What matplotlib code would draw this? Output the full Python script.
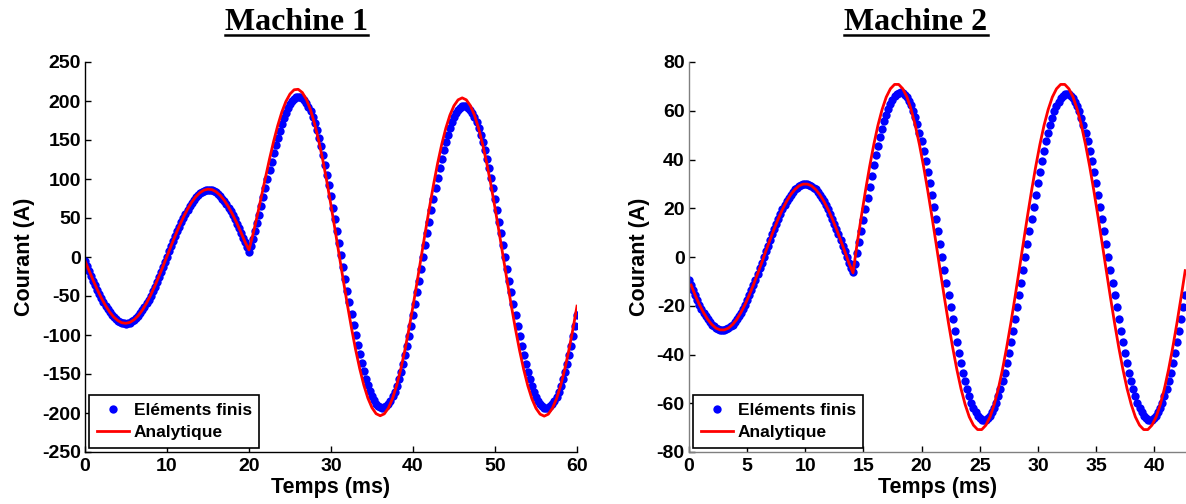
import numpy as np
import matplotlib.pyplot as plt
from matplotlib.lines import Line2D

plt.rcParams['font.family'] = ['Liberation Sans', 'DejaVu Sans']
plt.rcParams['font.weight'] = 'bold'
plt.rcParams['axes.unicode_minus'] = False

# ---- Machine 1 : éléments finis (pas 0.25 ms) ----
pas_ef1 = 0.25
courant_ef1 = [
    -5.0, -11.4, -17.7, -24.0, -30.2, -36.1, -41.9, -47.4, -52.7, -57.7,
    -62.3, -66.6, -70.6, -74.0, -77.1, -79.6, -81.7, -83.4, -84.5, -85.1,
    -85.3, -84.8, -84.0, -82.5, -80.6, -78.3, -75.4, -72.1, -68.4, -64.1,
    -59.6, -54.6, -49.4, -43.9, -38.0, -32.0, -25.8, -19.3, -12.8, -6.1,
    0.5, 7.1, 13.8, 20.3, 26.8, 33.0, 39.0, 44.9, 50.4, 55.6,
    60.6, 65.1, 69.4, 73.1, 76.4, 79.3, 81.6, 83.5, 85.0, 85.8,
    86.3, 86.1, 85.5, 84.4, 82.7, 80.6, 78.1, 75.0, 71.6, 67.6,
    63.3, 58.7, 53.7, 48.4, 42.9, 37.1, 31.2, 25.0, 18.7, 12.4,
    6.0,
    14.3, 23.3, 33.1, 43.5, 54.3, 65.4, 76.7, 88.2, 99.6, 110.9,
    122.0, 132.8, 143.0, 152.9, 162.1, 170.5, 178.2, 185.0, 191.1, 196.0,
    200.0, 203.0, 204.9, 205.7, 205.4, 203.9, 201.3, 197.6, 192.8, 186.9,
    180.0, 172.0, 163.0, 153.1, 142.4, 130.8, 118.5, 105.5, 91.9, 77.7,
    63.2, 48.3, 33.1, 17.8, 2.4, -13.0, -28.3, -43.4, -58.1, -72.6,
    -86.6, -100.0, -112.7, -124.8, -136.1, -146.5, -155.9, -164.5, -172.1, -178.4,
    -183.8, -187.9, -191.0, -192.8, -193.5, -192.9, -191.1, -188.1, -184.1, -178.8,
    -172.5, -165.0, -156.6, -147.2, -136.9, -125.7, -113.8, -101.2, -87.9, -74.0,
    -59.9, -45.3, -30.3, -15.2, 0.0, 15.2, 30.3, 45.3, 59.9, 74.2,
    88.1, 101.4, 114.0, 126.0, 137.2, 147.5, 156.9, 165.4, 172.9, 179.2,
    184.5, 188.6, 191.6, 193.4, 194.0, 193.4, 191.6, 188.6, 184.5, 179.2,
    172.9, 165.4, 156.9, 147.5, 137.2, 126.0, 114.0, 101.4, 88.1, 74.2,
    59.9, 45.3, 30.3, 15.2, 0.0, -15.2, -30.3, -45.3, -59.9, -74.2,
    -88.1, -101.4, -114.0, -126.0, -137.2, -147.5, -156.9, -165.4, -172.9, -179.2,
    -184.5, -188.6, -191.6, -193.4, -194.0, -193.4, -191.6, -188.6, -184.5, -179.2,
    -172.9, -165.4, -156.9, -147.5, -137.2, -126.0, -114.0, -101.4, -88.1, -74.2,
]

# ---- Machine 1 : modèle analytique (pas 0.5 ms) ----
pas_ana1 = 0.5
courant_ana1 = [
    -5.0, -17.7, -30.0, -41.8, -52.6, -62.2, -70.4, -76.9, -81.5, -84.3,
    -85.0, -83.7, -80.3, -75.1, -68.0, -59.2, -49.0, -37.6, -25.2, -12.3,
    1.0, 14.3, 27.2, 39.6, 51.0, 61.2, 70.0, 77.1, 82.3, 85.7,
    87.0, 86.3, 83.5, 78.9, 72.4, 64.2, 54.6, 43.8, 32.0, 19.7,
    9.0,
    29.7, 52.7, 77.0, 101.5, 125.6, 148.1, 168.3, 185.7, 199.4, 209.0,
    214.4, 215.0, 210.9, 202.1, 188.7, 170.9, 149.2, 124.2, 96.3, 66.2,
    34.6, 2.3, -29.9, -61.3, -91.1, -118.7, -143.1, -164.1, -181.0, -193.3,
    -200.9, -203.5, -201.1, -193.7, -181.5, -164.8, -144.2, -119.9, -92.6, -63.0,
    -31.9, 0.0, 31.9, 63.0, 92.6, 119.9, 144.2, 165.0, 181.8, 194.0,
    201.5, 204.0, 201.5, 194.0, 181.8, 165.0, 144.2, 119.9, 92.6, 63.0,
    31.9, 0.0, -31.9, -63.0, -92.6, -119.9, -144.2, -165.0, -181.8, -194.0,
    -201.5, -204.0, -201.5, -194.0, -181.8, -165.0, -144.2, -119.9, -92.6, -63.0,
]

# ---- Machine 2 : éléments finis (pas 0.1785 ms) ----
pas_ef2 = 0.1785
courant_ef2 = [
    -9.3, -11.5, -13.6, -15.7, -17.6, -19.5, -21.2, -22.8, -24.3, -25.6,
    -26.7, -27.7, -28.5, -29.2, -29.6, -29.9, -30.0, -29.9, -29.6, -29.2,
    -28.5, -27.7, -26.7, -25.6, -24.3, -22.8, -21.2, -19.5, -17.6, -15.7,
    -13.6, -11.5, -9.3, -7.0, -4.7, -2.4, 0.0, 2.4, 4.7, 7.0,
    9.3, 11.5, 13.6, 15.7, 17.6, 19.5, 21.2, 22.8, 24.3, 25.6,
    26.7, 27.7, 28.5, 29.2, 29.6, 29.9, 30.0, 29.9, 29.6, 29.2,
    28.5, 27.7, 26.7, 25.6, 24.3, 22.8, 21.2, 19.5, 17.6, 15.7,
    13.6, 11.5, 9.3, 7.0, 4.7, 2.4, 0.0, -2.4, -4.7, -6.0,
    -2.9, 1.5, 6.0, 10.6, 15.2, 19.8, 24.4, 28.9, 33.3, 37.6,
    41.7, 45.6, 49.2, 52.5, 55.6, 58.4, 60.8, 62.9, 64.6, 66.0,
    66.9, 67.4, 67.5, 67.3, 66.6, 65.6, 64.0, 62.2, 59.9, 57.3,
    54.4, 51.0, 47.4, 43.5, 39.4, 35.0, 30.4, 25.6, 20.7, 15.6,
    10.5, 5.3, 0.0, -5.3, -10.5, -15.6, -20.7, -25.6, -30.4, -35.0,
    -39.4, -43.5, -47.4, -50.9, -54.2, -57.1, -59.7, -61.9, -63.7, -65.2,
    -66.2, -66.8, -67.0, -66.8, -66.2, -65.2, -63.7, -61.9, -59.7, -57.1,
    -54.2, -50.9, -47.4, -43.5, -39.4, -35.0, -30.4, -25.6, -20.7, -15.6,
    -10.5, -5.3, 0.0, 5.3, 10.5, 15.6, 20.7, 25.6, 30.4, 35.0,
    39.4, 43.5, 47.4, 50.9, 54.2, 57.1, 59.7, 61.9, 63.7, 65.2,
    66.2, 66.8, 67.0, 66.8, 66.2, 65.2, 63.7, 61.9, 59.7, 57.1,
    54.2, 50.9, 47.4, 43.5, 39.4, 35.0, 30.4, 25.6, 20.7, 15.6,
    10.5, 5.3, 0.0, -5.3, -10.5, -15.6, -20.7, -25.6, -30.4, -35.0,
    -39.4, -43.5, -47.4, -50.9, -54.2, -57.1, -59.7, -61.9, -63.7, -65.2,
    -66.2, -66.8, -67.0, -66.8, -66.2, -65.2, -63.7, -61.9, -59.7, -57.1,
    -54.2, -50.9, -47.4, -43.5, -39.4, -35.0, -30.4, -25.6, -20.7, -15.6,
]

# ---- Machine 2 : modèle analytique (un point sur deux, décalé d'un pas) ----
courant_ana2 = [
    -11.5, -15.7, -19.5, -22.8, -25.6, -27.7, -29.2, -29.9, -29.9, -29.2,
    -27.7, -25.6, -22.8, -19.5, -15.7, -11.5, -7.0, -2.4, 2.4, 7.0,
    11.5, 15.7, 19.5, 22.8, 25.6, 27.7, 29.2, 29.9, 29.9, 29.2,
    27.7, 25.6, 22.8, 19.5, 15.7, 11.5, 7.0, 2.4, -2.4, -6.5,
    5.6, 16.6, 27.2, 37.1, 46.1, 54.0, 60.5, 65.6, 69.0, 70.8,
    70.8, 69.0, 65.6, 60.5, 54.0, 46.1, 37.1, 27.2, 16.6, 5.6,
    -5.6, -16.6, -27.2, -37.1, -46.1, -54.0, -60.5, -65.6, -69.0, -70.8,
    -70.8, -69.0, -65.6, -60.5, -54.0, -46.1, -37.1, -27.2, -16.6, -5.6,
    5.6, 16.6, 27.2, 37.1, 46.1, 54.0, 60.5, 65.6, 69.0, 70.8,
    70.8, 69.0, 65.6, 60.5, 54.0, 46.1, 37.1, 27.2, 16.6, 5.6,
    -5.6, -16.6, -27.2, -37.1, -46.1, -54.0, -60.5, -65.6, -69.0, -70.8,
    -70.8, -69.0, -65.6, -60.5, -54.0, -46.1, -37.1, -27.2, -16.6, -5.6,
]

titres = ['Machine 1', 'Machine 2']
legendes = ['Eléments finis', 'Analytique']

t_ef1 = np.arange(len(courant_ef1)) * pas_ef1
t_ana1 = np.arange(len(courant_ana1)) * pas_ana1
t_ef2 = np.arange(len(courant_ef2)) * pas_ef2
t_ana2 = (2 * np.arange(len(courant_ana2)) + 1) * pas_ef2

W, H = 1186, 504
fig = plt.figure(figsize=(W / 100, H / 100), dpi=100)
ax1 = fig.add_axes([85 / W, 52 / H, 492 / W, 390 / H])
ax2 = fig.add_axes([689 / W, 52 / H, 497 / W, 390 / H])


def trace(ax, t_ef, i_ef, t_ana, i_ana, couleur_axe):
    ax.plot(t_ef, i_ef, 'o', color='#0000ff', markersize=6,
            markeredgewidth=0, label=legendes[0])
    ax.plot(t_ana, i_ana, '-', color='#ff0000', lw=2.0, label=legendes[1])
    for s in ['top', 'right']:
        ax.spines[s].set_visible(False)
    for s in ['left', 'bottom']:
        ax.spines[s].set_color(couleur_axe)
        ax.spines[s].set_linewidth(1.0)
    ax.tick_params(direction='in', length=4, width=1, color='black',
                   labelsize=14, top=False, right=False)
    ax.tick_params(axis='y', pad=3)
    ax.tick_params(axis='x', pad=4)
    ax.set_xlabel('Temps (ms)', fontsize=15.5, fontweight='bold', labelpad=2)
    ax.set_ylabel('Courant (A)', fontsize=15.5, fontweight='bold', labelpad=5)
    leg = ax.legend(loc='lower left', fontsize=12.5, numpoints=1,
                    fancybox=False, edgecolor='black', framealpha=1,
                    borderaxespad=0.25, handlelength=1.85, handletextpad=0.3,
                    labelspacing=0.42, borderpad=0.42)
    leg.get_frame().set_linewidth(1.2)


trace(ax1, t_ef1, courant_ef1, t_ana1, courant_ana1, 'black')
ax1.set_xlim(0, 60)
ax1.set_ylim(-250, 250)
ax1.set_xticks(np.arange(0, 61, 10))
ax1.set_yticks(np.arange(-250, 251, 50))

trace(ax2, t_ef2, courant_ef2, t_ana2, courant_ana2, '#808080')
ax2.set_xlim(0, 42.73)
ax2.set_ylim(-80, 80)
ax2.set_xticks(np.arange(0, 41, 5))
ax2.set_yticks(np.arange(-80, 81, 20))

# titres soulignés
renderer = fig.canvas.get_renderer()
for xc, titre in zip([296.5, 916], titres):
    txt = fig.text(xc / W, 1 - 30 / H, titre, ha='center', va='baseline',
                   fontsize=23, fontweight='bold',
                   family=['Liberation Serif', 'DejaVu Serif'])
    bb = txt.get_window_extent(renderer)
    y = 1 - 34.5 / H
    fig.add_artist(Line2D([bb.x0 / W, bb.x1 / W], [y, y],
                          transform=fig.transFigure, color='black', lw=1.8))

fig.savefig('out.png', dpi=100)
